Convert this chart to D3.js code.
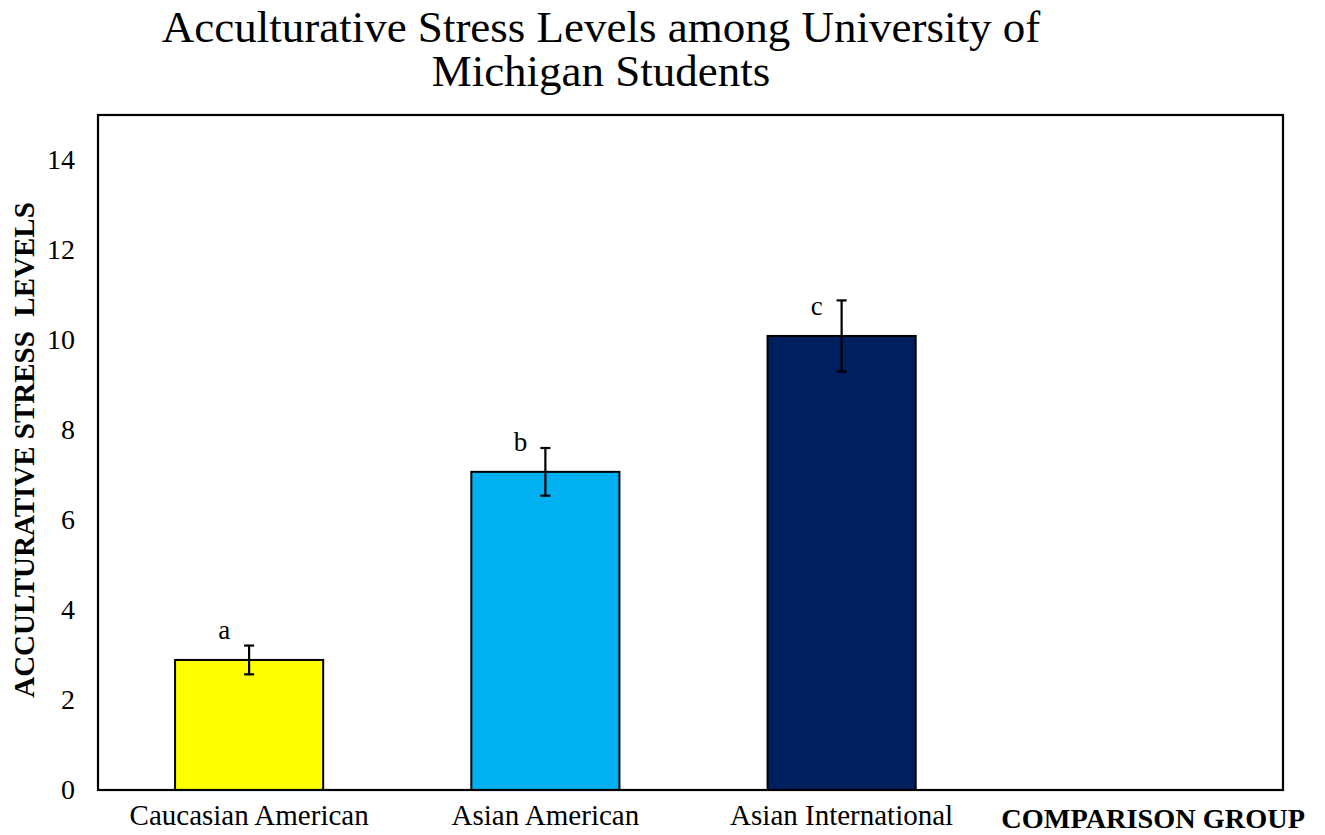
<!DOCTYPE html>
<html>
<head>
<meta charset="utf-8">
<script src="https://cdn.jsdelivr.net/npm/d3@7"></script>
<style>
  html, body { margin: 0; padding: 0; background: #fff; }
  svg { display: block; }
  text { font-family: "Liberation Serif", "Times New Roman", serif; fill: #000; }
</style>
</head>
<body>
<svg id="chart" width="1325" height="835"></svg>
<script>
// Mean acculturative stress score per group, with standard error
const categories = ["Caucasian American", "Asian American", "Asian International"];
const means = [2.89, 7.07, 10.09];
const errors = [0.32, 0.53, 0.79];
const sigLetters = ["a", "b", "c"];
const barColors = ["#FFFF00", "#00B0F0", "#001F5F"];
const yTicks = [0, 2, 4, 6, 8, 10, 12, 14];
const titleLines = ["Acculturative Stress Levels among University of", "Michigan Students"];
const yTitle = "ACCULTURATIVE STRESS  LEVELS";
const xTitle = "COMPARISON GROUP";

const svg = d3.select("#chart");
const plot = { left: 98, right: 1283, top: 115, bottom: 790 };

// four slots: the three groups plus an empty slot under the axis title
const x = d3.scaleBand()
  .domain([...categories, "__blank__"])
  .range([plot.left + 3, plot.right + 3])
  .paddingInner(0.5)
  .paddingOuter(0.25);

const y = d3.scaleLinear().domain([0, 15]).range([plot.bottom, plot.top]);

// title
svg.append("text")
  .attr("x", 601).attr("y", 42)
  .attr("text-anchor", "middle")
  .style("font-size", "45px")
  .selectAll("tspan").data(titleLines).join("tspan")
  .attr("x", 601)
  .attr("dy", (d, i) => i === 0 ? 0 : 44)
  .text(d => d);

// y axis tick labels (no tick marks)
const yAxis = d3.axisLeft(y).tickValues(yTicks).tickSize(0).tickPadding(23).tickFormat(d3.format("d"));
const gy = svg.append("g").attr("transform", `translate(${plot.left},0)`).call(yAxis);
gy.select(".domain").remove();
gy.selectAll("text").style("font-size", "28px").style("font-family", "Liberation Serif, serif");

// x axis category labels
const xAxis = d3.axisBottom(x).tickSize(0).tickPadding(14).tickFormat(d => d === "__blank__" ? "" : d);
const gx = svg.append("g").attr("transform", `translate(0,${plot.bottom})`).call(xAxis);
gx.select(".domain").remove();
gx.selectAll("text").style("font-size", "29px").style("font-family", "Liberation Serif, serif");

// bars
const rows = categories.map((c, i) => ({ c, m: means[i], e: errors[i], l: sigLetters[i], col: barColors[i] }));
svg.append("g").selectAll("rect").data(rows).join("rect")
  .attr("x", d => x(d.c))
  .attr("y", d => y(d.m))
  .attr("width", x.bandwidth())
  .attr("height", d => y(0) - y(d.m))
  .attr("fill", d => d.col)
  .attr("stroke", "#000")
  .attr("stroke-width", 2);

// error bars
const capW = 5;
const eb = svg.append("g").attr("stroke", "#000").attr("stroke-width", 2.2);
rows.forEach(d => {
  const cx = x(d.c) + x.bandwidth() / 2;
  eb.append("line").attr("x1", cx).attr("x2", cx).attr("y1", y(d.m + d.e)).attr("y2", y(d.m - d.e));
  eb.append("line").attr("x1", cx - capW).attr("x2", cx + capW).attr("y1", y(d.m + d.e)).attr("y2", y(d.m + d.e));
  eb.append("line").attr("x1", cx - capW).attr("x2", cx + capW).attr("y1", y(d.m - d.e)).attr("y2", y(d.m - d.e));
});

// significance letters
svg.append("g").selectAll("text").data(rows).join("text")
  .attr("x", d => x(d.c) + x.bandwidth() / 2 - 25)
  .attr("y", d => y(d.m) - 21)
  .attr("text-anchor", "middle")
  .style("font-size", "27px")
  .text(d => d.l);

// plot frame
svg.append("rect")
  .attr("x", plot.left).attr("y", plot.top)
  .attr("width", plot.right - plot.left).attr("height", plot.bottom - plot.top)
  .attr("fill", "none").attr("stroke", "#000").attr("stroke-width", 2.2);

// axis titles
svg.append("text")
  .attr("transform", `translate(34,${450}) rotate(-90)`)
  .attr("text-anchor", "middle")
  .style("font-size", "29px").style("font-weight", "bold")
  .style("white-space", "pre")
  .attr("xml:space", "preserve")
  .text(yTitle);

svg.append("text")
  .attr("x", 1305).attr("y", 828)
  .attr("text-anchor", "end")
  .style("font-size", "28.3px").style("font-weight", "bold")
  .text(xTitle);
</script>
</body>
</html>
